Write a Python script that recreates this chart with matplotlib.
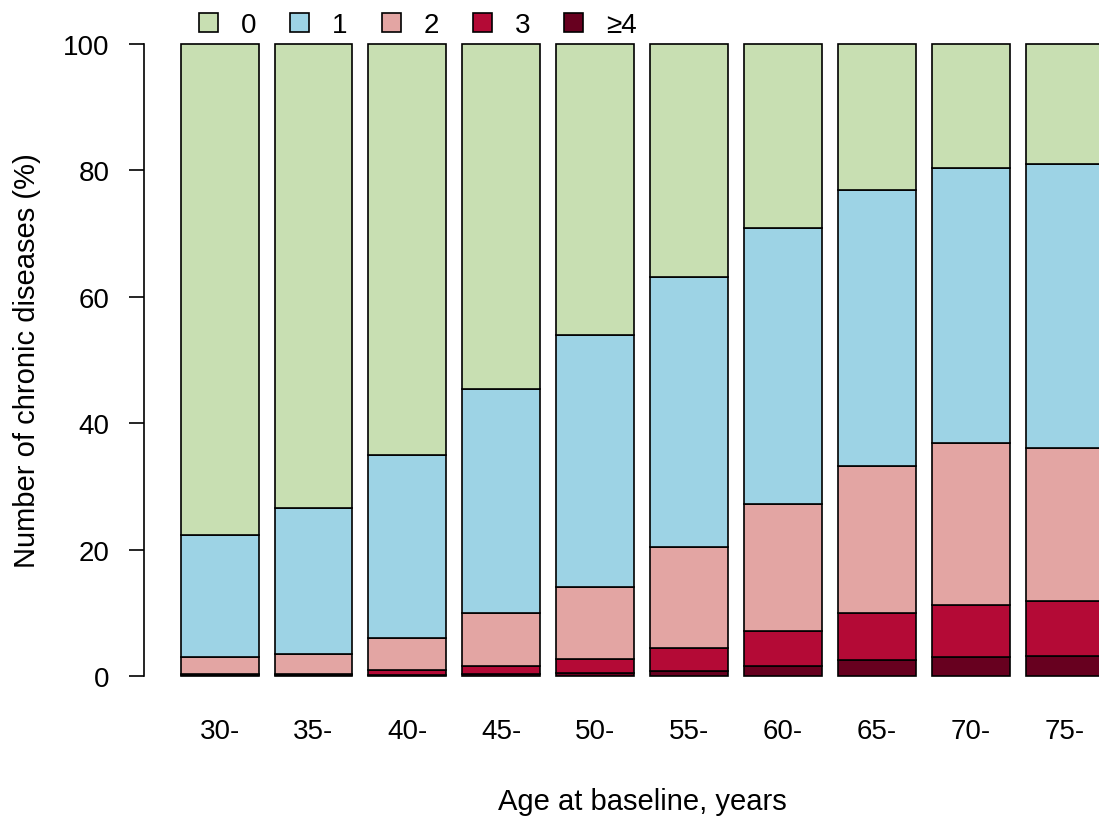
import numpy as np
import matplotlib
matplotlib.use('Agg')
import matplotlib.pyplot as plt
from matplotlib.patches import Patch

plt.rcParams['font.family'] = ['Liberation Sans', 'DejaVu Sans']

ages = ['30-', '35-', '40-', '45-', '50-', '55-', '60-', '65-', '70-', '75-']
groups = ['0', '1', '2', '3', '≥4']
colors = ['#C8DFB2', '#9DD3E5', '#E3A5A3', '#B40A36', '#67001F']

# share (%) of each number of chronic diseases per age group
n4 = [0.1, 0.1, 0.2, 0.3, 0.5, 0.8, 1.6, 2.5, 3.0, 3.2]
n3 = [0.2, 0.2, 0.7, 1.3, 2.2, 3.7, 5.5, 7.5, 8.3, 8.7]
n2 = [2.7, 3.2, 5.1, 8.4, 11.4, 15.9, 20.1, 23.2, 25.6, 24.2]
n1 = [19.3, 23.1, 29.0, 35.4, 39.9, 42.7, 43.7, 43.7, 43.5, 44.9]
n0 = [77.7, 73.4, 65.0, 54.6, 46.0, 36.9, 29.1, 23.1, 19.6, 19.0]

fs = 20
x = np.arange(len(ages))
fig = plt.figure(figsize=(10.99, 8.2), dpi=100)
ax = fig.add_axes([144/1099, 1-677/820, 1-144/1099, (677-45)/820])

bottom = np.zeros(len(ages))
for vals, col in zip([n4, n3, n2, n1, n0], colors[::-1]):
    ax.bar(x, vals, width=0.83, bottom=bottom, color=col, edgecolor='black',
           linewidth=1.2, clip_on=False)
    bottom += np.array(vals)

ax.set_xlim(-0.805, 9.365)
ax.set_ylim(0, 100)
for s in ['top', 'right', 'bottom']:
    ax.spines[s].set_visible(False)
ax.spines['left'].set_bounds(0, 100)
ax.spines['left'].set_linewidth(1.2)

ax.set_yticks([0, 20, 40, 60, 80, 100])
ax.tick_params(axis='y', length=11, width=1.2, pad=14, labelsize=fs)
ax.set_xticks(x)
ax.set_xticklabels(ages)
ax.tick_params(axis='x', length=0, pad=30, labelsize=fs)

ax.set_xlabel('Age at baseline, years', fontsize=21, labelpad=30)
ax.xaxis.set_label_coords((642-144)/955, -0.176)
ax.set_ylabel('Number of chronic diseases (%)', fontsize=21, labelpad=16)

handles = [Patch(facecolor=c, edgecolor='black', linewidth=1.2) for c in colors]
fig.legend(handles, groups, ncol=5, loc='center left', bbox_to_anchor=(199/1099, 1-26/820),
           frameon=False, fontsize=fs, handlelength=0.68, handleheight=0.68,
           handletextpad=0.83, columnspacing=1.22, borderpad=0, borderaxespad=0)

fig.savefig('out.png', dpi=100)
